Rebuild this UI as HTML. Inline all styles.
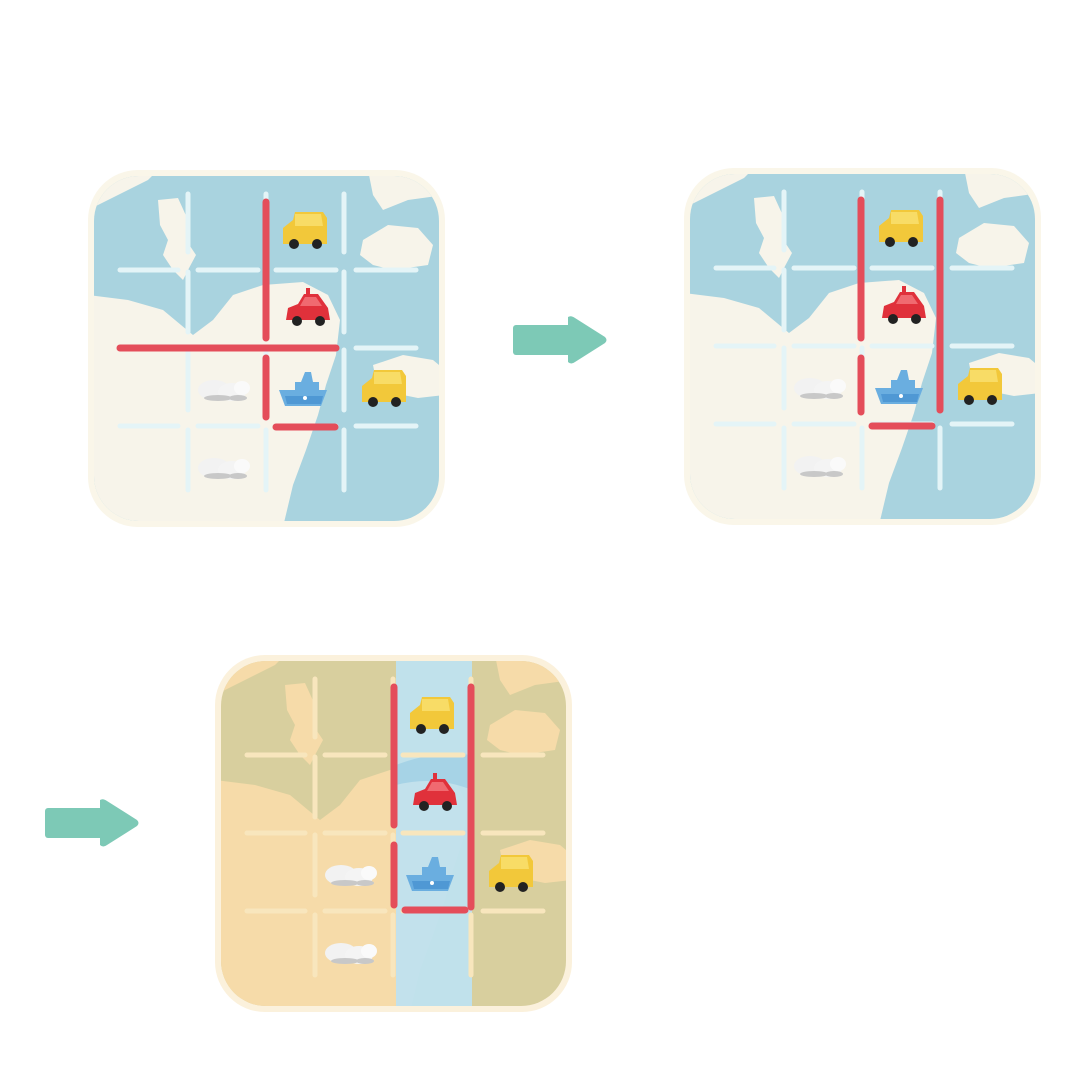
<!DOCTYPE html>
<html><head><meta charset="utf-8"><style>
html,body{margin:0;padding:0;background:#fff;width:1080px;height:1080px;overflow:hidden}
svg{display:block}
</style></head><body>
<svg id="s" width="1080" height="1080" viewBox="0 0 1080 1080" xmlns="http://www.w3.org/2000/svg"></svg>
<script>
function board(ox,oy,water,land,line,frame,bars,hl){
  let s=`<g transform="translate(${ox},${oy})">`;
  s+=`<clipPath id="c${ox}"><rect x="6" y="6" width="345" height="345" rx="45"/></clipPath>`;
  s+=`<rect x="0" y="0" width="357" height="357" rx="50" fill="${frame}"/>`;
  s+=`<g clip-path="url(#c${ox})"><rect x="0" y="0" width="357" height="357" fill="${water}"/>`;
  // land shapes
  s+=`<path fill="${land}" d="M0,0 L70,0 L60,10 L40,20 L10,35 L0,40Z"/>`;
  s+=`<path fill="${land}" d="M70,30 L90,28 L100,50 L98,70 L108,85 L100,100 L95,110 L85,100 L75,85 L80,70 L72,55Z"/>`;
  s+=`<path fill="${land}" d="M280,0 L357,0 L357,25 L320,30 L295,40 L285,25Z"/>`;
  s+=`<path fill="${land}" d="M275,70 L300,55 L330,58 L345,75 L340,95 L305,100 L285,95 L272,85Z"/>`;
  s+=`<path fill="${land}" d="M0,125 L40,130 L75,140 L105,165 L125,150 L145,125 L175,115 L215,112 L240,125 L252,150 L248,185 L238,215 L230,245 L218,280 L205,315 L195,357 L0,357Z"/>`;
  s+=`<path fill="${land}" d="M285,195 L315,185 L345,190 L357,200 L357,225 L330,228 L300,222 L288,210Z"/>`;
  if(hl){s+=`<rect x="181" y="0" width="76" height="357" fill="${hl}" opacity="0.95"/>`;
    s+=`<path d="M181,110 Q220,95 257,100 L257,135 Q220,120 181,130Z" fill="#a6d3e6"/>`;}
  s+=`</g>`;
  // grid lines
  const segs=[[32,90],[110,170],[188,248],[268,328]];
  [100,178,256].forEach(p=>{segs.forEach(g=>{
    s+=`<line x1="${g[0]}" y1="${p}" x2="${g[1]}" y2="${p}" stroke="${line}" stroke-width="5" stroke-linecap="round"/>`;
    s+=`<line x1="${p}" y1="${g[0]-8}" x2="${p}" y2="${g[1]-8}" stroke="${line}" stroke-width="5" stroke-linecap="round"/>`;
  });});
  bars.forEach(b=>{s+=`<line x1="${b[0]}" y1="${b[1]}" x2="${b[2]}" y2="${b[3]}" stroke="#e44d5a" stroke-width="7" stroke-linecap="round"/>`;});
  // vehicles
  const bus=(x,y)=>`<g transform="translate(${x},${y})"><path d="M-22,-6 L-12,-14 L-10,-22 L18,-22 L22,-16 L22,10 L-22,10Z" fill="#f2c83a"/><path d="M-10,-20 L16,-20 L18,-8 L-10,-8Z" fill="#f8dc66"/><circle cx="-11" cy="10" r="5" fill="#222"/><circle cx="12" cy="10" r="5" fill="#222"/></g>`;
  const car=(x,y)=>`<g transform="translate(${x},${y})"><path d="M-22,8 L-20,-4 L-10,-8 L-4,-18 L10,-18 L20,-4 L22,8Z" fill="#e0313b"/><path d="M-2,-24 L2,-24 L2,-18 L-2,-18Z" fill="#e0313b"/><path d="M-3,-15 L8,-15 L14,-6 L-8,-6Z" fill="#f06a70"/><circle cx="-11" cy="9" r="5" fill="#222"/><circle cx="12" cy="9" r="5" fill="#222"/></g>`;
  const boat=(x,y)=>`<g transform="translate(${x},${y})"><path d="M-24,-2 L-8,-2 L-8,-10 L-2,-10 L2,-20 L8,-20 L10,-10 L16,-10 L16,-2 L24,-2 L18,14 L-18,14Z" fill="#6aaee0"/><path d="M-18,4 L20,4 L18,12 L-16,12Z" fill="#4f98d4"/><circle cx="2" cy="6" r="2" fill="#fff"/></g>`;
  const cloud=(x,y)=>`<g transform="translate(${x},${y})"><ellipse cx="-10" cy="0" rx="16" ry="10" fill="#f2f2f2"/><ellipse cx="8" cy="2" rx="14" ry="9" fill="#f4f4f4"/><ellipse cx="18" cy="-2" rx="8" ry="7" fill="#fafafa"/><ellipse cx="-6" cy="8" rx="14" ry="3" fill="#c8c8c8"/><ellipse cx="14" cy="8" rx="9" ry="3" fill="#c8c8c8"/></g>`;
  s+=bus(217,64)+car(220,142)+boat(215,222)+bus(296,222)+cloud(136,220)+cloud(136,298);
  s+=`</g>`;return s;
}
function arrow(x,y){return `<g transform="translate(${x},${y})" fill="#7dc9b6"><rect x="0" y="8" width="60" height="30" rx="3"/><path d="M55,0 Q58,-2 62,1 L92,20 Q95,23 92,26 L62,45 Q58,48 55,45Z"/></g>`;}
let h='';
h+=board(88,170,'#a9d3df','#f7f4ea','#e4f4f7','#faf6e9',[[178,32,178,168],[178,188,178,247],[32,178,248,178],[188,257,247,257]]);
h+=board(684,168,'#a9d3df','#f7f4ea','#e4f4f7','#faf6e9',[[177,32,177,170],[177,190,177,244],[256,32,256,242],[188,258,248,258]]);
h+=board(215,655,'#d8cf9e','#f6dba9','#f8e6bd','#fbf1dc',[[179,32,179,170],[179,190,179,250],[256,32,256,252],[190,255,250,255]],'#bfe2ef');
h+=arrow(513,317)+arrow(45,800);
document.getElementById('s').innerHTML=h;
</script>
</body></html>
